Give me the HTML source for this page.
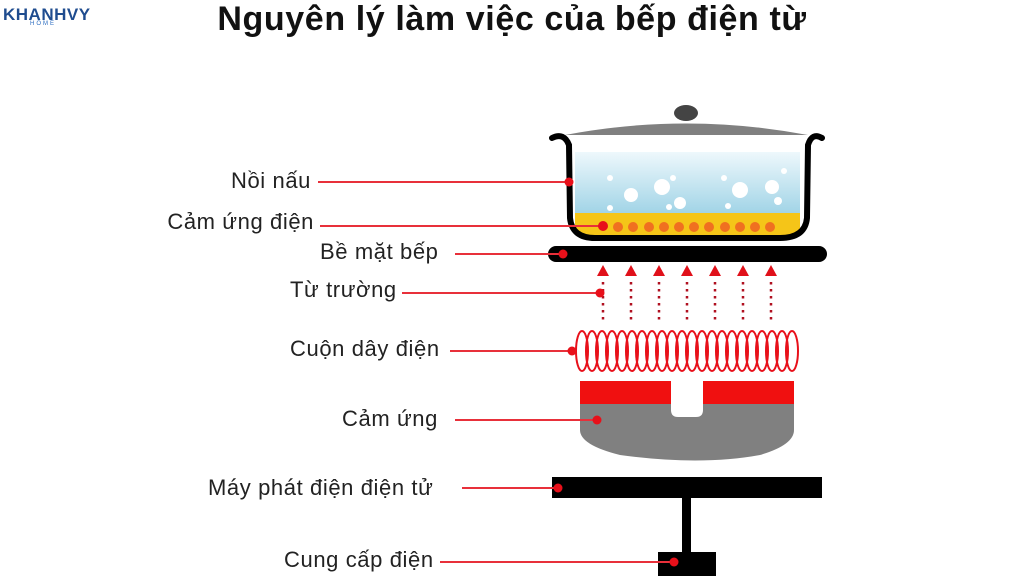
<!DOCTYPE html>
<html><head><meta charset="utf-8"><style>
body{margin:0;width:1024px;height:576px;background:#fff;overflow:hidden;position:relative;font-family:"Liberation Sans",sans-serif}
.t{position:absolute;font-size:22px;letter-spacing:0.6px;color:#222;white-space:nowrap}
</style></head><body>
<div style="position:absolute;left:0;width:1024px;text-align:center;top:0px;font-size:34px;letter-spacing:0.6px;font-weight:bold;color:#111">Nguyên lý làm việc của bếp điện từ</div>
<div style="position:absolute;left:3px;top:5px;font-size:17px;font-weight:900;color:#1f4c8f;letter-spacing:0.5px">KHANHVY</div>
<div style="position:absolute;left:30px;top:21px;font-size:6px;color:#2b6cc0;letter-spacing:2px">HOME</div>
<div class="t" style="right:713px;top:168px">Nồi nấu</div>
<div class="t" style="right:710px;top:209px">Cảm ứng điện</div>
<div class="t" style="left:320px;top:239px">Bề mặt bếp</div>
<div class="t" style="left:290px;top:277px">Từ trường</div>
<div class="t" style="left:290px;top:336px">Cuộn dây điện</div>
<div class="t" style="left:342px;top:406px">Cảm ứng</div>
<div class="t" style="left:208px;top:475px">Máy phát điện điện tử</div>
<div class="t" style="left:284px;top:547px">Cung cấp điện</div>
<svg width="1024" height="576" style="position:absolute;left:0;top:0">
<defs><linearGradient id="w" x1="0" y1="0" x2="0" y2="1"><stop offset="0" stop-color="#eef8fc"/><stop offset="1" stop-color="#9fd3e6"/></linearGradient></defs>
<ellipse cx="686" cy="113" rx="12" ry="8" fill="#444"/>
<path d="M565 135 Q686 112 808 135 Z" fill="#808080"/>
<path d="M575 152 L800 152 L800 215 L575 215 Z" fill="url(#w)"/>
<path d="M575 213 L800 213 L800 228 Q800 236 790 236 L585 236 Q575 236 575 228 Z" fill="#f5c518"/>
<g fill="#fff">
<circle cx="631" cy="195" r="7"/><circle cx="662" cy="187" r="8"/><circle cx="680" cy="203" r="6"/><circle cx="610" cy="208" r="3"/><circle cx="610" cy="178" r="3"/><circle cx="673" cy="178" r="3"/><circle cx="669" cy="207" r="3"/>
<circle cx="740" cy="190" r="8"/><circle cx="772" cy="187" r="7"/><circle cx="778" cy="201" r="4"/><circle cx="724" cy="178" r="3"/><circle cx="728" cy="206" r="3"/><circle cx="784" cy="171" r="3"/>
</g>
<g fill="#f07020"><circle cx="618" cy="227" r="5"/><circle cx="633" cy="227" r="5"/><circle cx="649" cy="227" r="5"/><circle cx="664" cy="227" r="5"/><circle cx="679" cy="227" r="5"/><circle cx="694" cy="227" r="5"/><circle cx="709" cy="227" r="5"/><circle cx="725" cy="227" r="5"/><circle cx="740" cy="227" r="5"/><circle cx="755" cy="227" r="5"/><circle cx="770" cy="227" r="5"/></g>
<path d="M552 138 Q564 132 569 145 L570 218 Q572 238 595 238 L780 238 Q805 238 807 218 L808 145 Q812 132 822 138" fill="none" stroke="#000" stroke-width="6" stroke-linecap="round"/>
<rect x="548" y="246" width="279" height="16" rx="8" fill="#000"/>
<g fill="#e0101a">
<path d="M597 276 L603 265 L609 276Z"/><path d="M625 276 L631 265 L637 276Z"/><path d="M653 276 L659 265 L665 276Z"/><path d="M681 276 L687 265 L693 276Z"/><path d="M709 276 L715 265 L721 276Z"/><path d="M737 276 L743 265 L749 276Z"/><path d="M765 276 L771 265 L777 276Z"/>
</g>
<g stroke="#b01020" stroke-width="2.5" stroke-dasharray="2.5 4.5">
<line x1="603" y1="282" x2="603" y2="324"/><line x1="631" y1="282" x2="631" y2="324"/><line x1="659" y1="282" x2="659" y2="324"/><line x1="687" y1="282" x2="687" y2="324"/><line x1="715" y1="282" x2="715" y2="324"/><line x1="743" y1="282" x2="743" y2="324"/><line x1="771" y1="282" x2="771" y2="324"/>
</g>
<g fill="none" stroke="#e8101a" stroke-width="2">
<ellipse cx="582" cy="351" rx="6" ry="20"/><ellipse cx="592" cy="351" rx="6" ry="20"/><ellipse cx="602" cy="351" rx="6" ry="20"/><ellipse cx="612" cy="351" rx="6" ry="20"/><ellipse cx="622" cy="351" rx="6" ry="20"/><ellipse cx="632" cy="351" rx="6" ry="20"/><ellipse cx="642" cy="351" rx="6" ry="20"/><ellipse cx="652" cy="351" rx="6" ry="20"/><ellipse cx="662" cy="351" rx="6" ry="20"/><ellipse cx="672" cy="351" rx="6" ry="20"/><ellipse cx="682" cy="351" rx="6" ry="20"/><ellipse cx="692" cy="351" rx="6" ry="20"/><ellipse cx="702" cy="351" rx="6" ry="20"/><ellipse cx="712" cy="351" rx="6" ry="20"/><ellipse cx="722" cy="351" rx="6" ry="20"/><ellipse cx="732" cy="351" rx="6" ry="20"/><ellipse cx="742" cy="351" rx="6" ry="20"/><ellipse cx="752" cy="351" rx="6" ry="20"/><ellipse cx="762" cy="351" rx="6" ry="20"/><ellipse cx="772" cy="351" rx="6" ry="20"/><ellipse cx="782" cy="351" rx="6" ry="20"/><ellipse cx="792" cy="351" rx="6" ry="20"/>
</g>
<path d="M580 403 L794 403 L794 430 Q794 445 760 455 Q700 466 620 455 Q580 445 580 430 Z" fill="#808080"/>
<rect x="580" y="381" width="91" height="23" fill="#f01010"/><rect x="703" y="381" width="91" height="23" fill="#f01010"/>
<path d="M671 381 L703 381 L703 410 Q703 417 696 417 L678 417 Q671 417 671 410Z" fill="#fff"/>
<rect x="552" y="477" width="270" height="21" fill="#000"/>
<rect x="682" y="497" width="9" height="57" fill="#000"/>
<rect x="658" y="552" width="58" height="24" fill="#000"/>
<g stroke="#e8303a" stroke-width="2">
<line x1="318" y1="182" x2="568" y2="182"/><line x1="320" y1="226" x2="603" y2="226"/><line x1="455" y1="254" x2="563" y2="254"/><line x1="402" y1="293" x2="600" y2="293"/><line x1="450" y1="351" x2="572" y2="351"/><line x1="455" y1="420" x2="597" y2="420"/><line x1="462" y1="488" x2="558" y2="488"/><line x1="440" y1="562" x2="673" y2="562"/>
</g>
<g fill="#e8101a">
<circle cx="569" cy="182" r="4.5"/><circle cx="603" cy="226" r="5"/><circle cx="563" cy="254" r="4.5"/><circle cx="600" cy="293" r="4.5"/><circle cx="572" cy="351" r="4.5"/><circle cx="597" cy="420" r="4.5"/><circle cx="558" cy="488" r="4.5"/><circle cx="674" cy="562" r="4.5"/>
</g>
</svg>
</body></html>
